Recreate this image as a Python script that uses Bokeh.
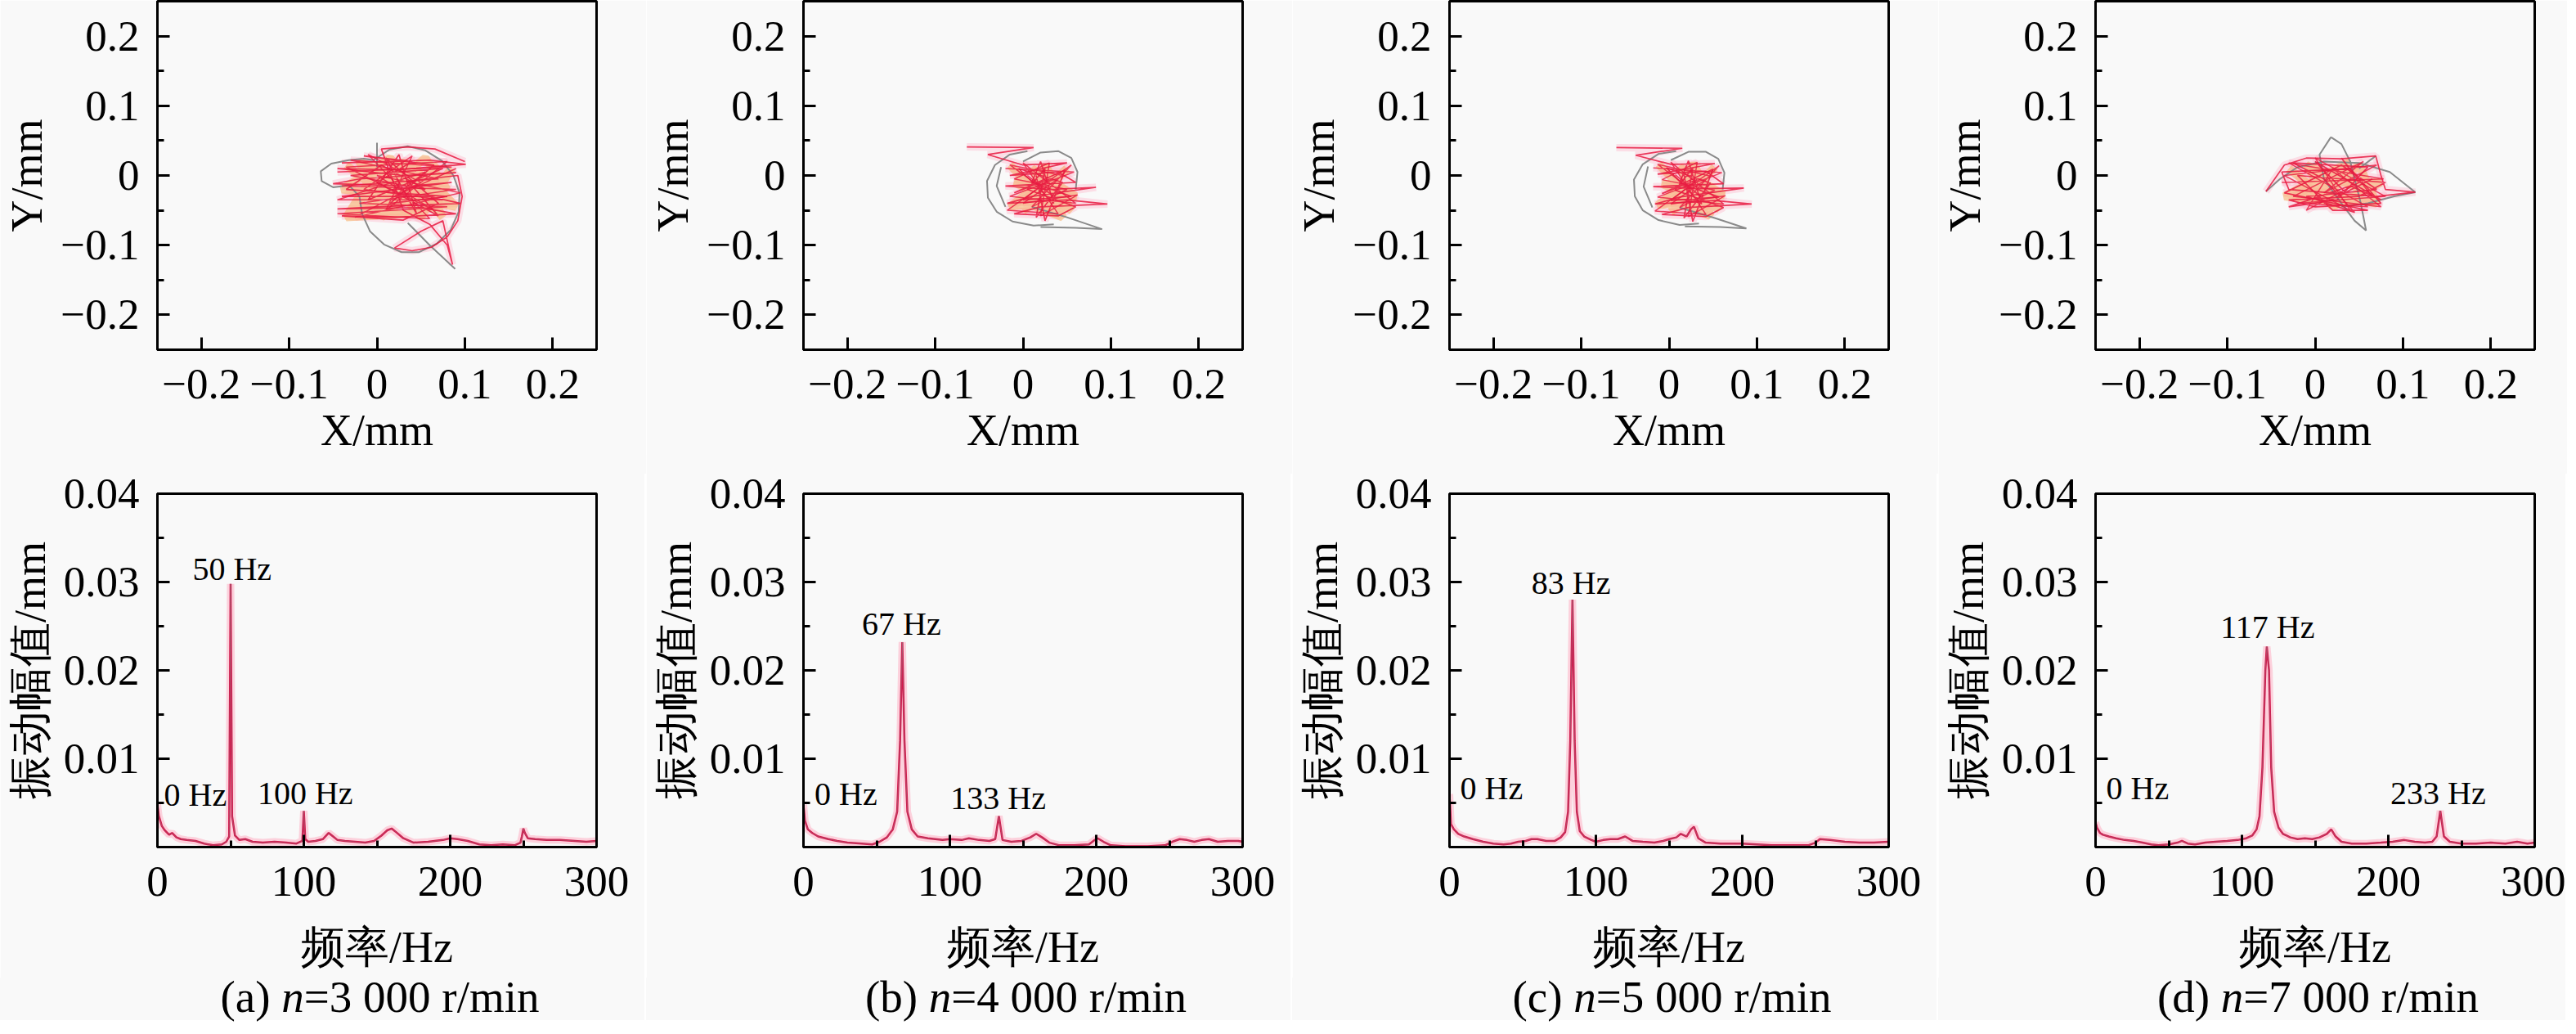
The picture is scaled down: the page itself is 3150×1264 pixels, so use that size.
from bokeh.plotting import figure
from bokeh.models import Range1d, FixedTicker, CustomJSTickFormatter, Label, Div
from bokeh.layouts import row, column
from bokeh.embed import file_html
from bokeh.resources import INLINE

# ---------------- data ----------------
captions = [("a", "3 000"), ("b", "4 000"), ("c", "5 000"), ("d", "7 000")]

orbit_ticks = [-0.2, -0.1, 0, 0.1, 0.2]
orbit_minor_y = [-0.15, -0.05, 0.05, 0.15]
spec_xticks = [0, 100, 200, 300]
spec_xminor = [50, 150, 250]
spec_yticks = [0.01, 0.02, 0.03, 0.04]
spec_yminor = [0.005, 0.015, 0.025, 0.035]

# axis-orbit traces (X mm, Y mm)
orbit_a_gray = [
    [(0.000, 0.047), (0.000, 0.012)],
    [(-0.004, 0.022), (-0.015, 0.024), (-0.032, 0.022), (-0.052, 0.017), (-0.064, 0.006), (-0.063, -0.008),
     (-0.050, -0.017), (-0.032, -0.014), (-0.020, -0.030), (-0.017, -0.055), (-0.008, -0.080), (0.008, -0.099),
     (0.028, -0.110), (0.048, -0.110), (0.068, -0.098), (0.084, -0.078), (0.093, -0.052), (0.094, -0.025),
     (0.087, 0.000), (0.074, 0.021), (0.055, 0.036), (0.035, 0.042), (0.014, 0.037), (-0.004, 0.022)],
    [(0.035, -0.068), (0.060, -0.100), (0.089, -0.134)],
]
orbit_a_orange = [(-0.035, 0.015), (0.000, -0.020), (0.030, 0.020), (0.060, -0.030), (0.085, 0.010), (0.050, -0.060),
                  (0.010, 0.000), (-0.030, -0.050), (0.020, -0.040), (0.070, 0.015), (0.040, -0.015), (-0.020, 0.020),
                  (0.005, -0.060), (0.060, -0.005), (0.090, -0.045), (0.030, -0.030), (-0.040, -0.020), (0.015, 0.025),
                  (0.075, -0.060), (0.045, 0.010), (-0.010, -0.040), (0.055, 0.025), (0.080, -0.020), (0.000, 0.010),
                  (-0.035, -0.060), (0.035, -0.055), (0.065, -0.045), (0.025, 0.005)]
orbit_a_red = [(-0.040, 0.018), (0.060, 0.022), (0.101, 0.016), (0.020, 0.008), (-0.045, 0.010), (0.030, 0.000),
               (0.090, 0.004), (-0.020, -0.005), (-0.050, -0.012), (0.040, -0.015), (0.085, -0.010), (0.010, -0.022),
               (-0.040, -0.030), (0.060, -0.030), (0.095, -0.040), (0.000, -0.045), (-0.045, -0.048), (0.050, -0.046),
               (0.090, -0.055), (0.020, -0.060), (-0.040, -0.058), (0.030, -0.064), (0.070, -0.040), (0.010, 0.025),
               (0.045, -0.055), (0.025, 0.030), (-0.010, -0.035), (0.075, 0.010), (-0.030, 0.000), (0.055, -0.020),
               (0.005, 0.015), (-0.035, -0.020), (0.080, -0.030), (0.015, -0.040), (0.065, 0.015), (-0.015, 0.028),
               (0.040, 0.020), (0.000, -0.010), (0.070, -0.058), (0.035, -0.008), (0.092, 0.000), (0.097, -0.030),
               (0.092, -0.065), (0.080, -0.088), (0.062, -0.103), (0.040, -0.108), (0.020, -0.104), (0.050, -0.080),
               (0.075, -0.065), (0.086, -0.128), (0.080, -0.100), (0.060, -0.070), (0.030, -0.050), (0.005, 0.038),
               (0.035, 0.041), (0.066, 0.038), (0.100, 0.020)]
orbit_a_red2 = [(-0.045, 0.005), (0.085, 0.012), (-0.030, 0.022), (0.070, -0.005), (-0.040, -0.015), (0.090, -0.020),
                (-0.020, -0.040), (0.080, -0.045), (-0.045, -0.055), (0.060, -0.062), (-0.010, 0.030), (0.050, -0.010),
                (-0.025, -0.060), (0.095, -0.025), (0.000, 0.000), (0.065, -0.050), (-0.035, 0.012), (0.080, 0.020),
                (0.010, -0.050), (0.040, 0.028), (-0.015, -0.020), (0.075, -0.035), (-0.045, -0.035), (0.055, 0.005),
                (0.020, -0.030), (0.090, 0.010)]

orbit_b_gray = [
    [(0.005, 0.035), (-0.015, 0.030), (-0.032, 0.015), (-0.041, -0.008), (-0.040, -0.032), (-0.030, -0.052),
     (-0.012, -0.066), (0.012, -0.072), (0.035, -0.070)],
    [(0.000, 0.020), (0.020, 0.033), (0.040, 0.035), (0.055, 0.025), (0.062, 0.005), (0.060, -0.020)],
    [(0.010, -0.045), (0.050, -0.060), (0.090, -0.077), (0.060, -0.075), (0.020, -0.074)],
    [(-0.025, 0.012), (-0.030, -0.015), (-0.020, -0.045)],
]
orbit_b_orange = [(-0.015, 0.015), (0.020, -0.030), (0.050, 0.010), (0.000, -0.050), (0.040, -0.020), (-0.010, -0.010),
                  (0.055, -0.050), (0.025, 0.015), (0.005, -0.040), (0.045, -0.060), (0.030, 0.000), (-0.015, -0.045),
                  (0.060, -0.030), (0.010, 0.010), (0.035, -0.050)]
orbit_b_red = [(-0.064, 0.041), (0.012, 0.040), (-0.040, 0.030), (0.000, 0.015), (0.050, 0.018), (-0.015, 0.000),
               (0.040, 0.005), (0.060, -0.010), (-0.020, -0.015), (0.030, -0.020), (0.083, -0.017), (0.010, -0.030),
               (-0.018, -0.040), (0.050, -0.035), (0.096, -0.041), (0.020, -0.045), (-0.010, -0.055), (0.040, -0.058),
               (0.060, -0.045), (0.005, -0.020), (0.025, 0.010), (0.015, -0.060), (0.045, -0.010), (-0.005, 0.010),
               (0.035, -0.040), (0.020, 0.020), (0.010, -0.010), (0.055, -0.030), (0.000, -0.035), (0.030, -0.005),
               (-0.010, -0.025), (0.048, 0.008), (0.025, -0.065), (0.015, 0.000)]
orbit_b_red2 = [(-0.020, 0.010), (0.058, 0.005), (-0.015, -0.030), (0.060, -0.040), (0.000, 0.018), (0.040, -0.055),
                (-0.018, -0.050), (0.055, 0.015), (0.010, -0.045), (0.050, -0.020), (-0.010, -0.005), (0.030, 0.018),
                (0.020, -0.058), (0.062, -0.028), (0.000, -0.040), (0.045, 0.000), (-0.015, 0.015), (0.035, -0.030),
                (0.005, 0.000)]

orbit_c_gray = [
    [(0.008, 0.035), (-0.012, 0.031), (-0.030, 0.016), (-0.040, -0.006), (-0.039, -0.030), (-0.030, -0.050),
     (-0.012, -0.064), (0.012, -0.071), (0.034, -0.069)],
    [(0.002, 0.022), (0.022, 0.034), (0.042, 0.034), (0.056, 0.024), (0.063, 0.004), (0.061, -0.020)],
    [(0.012, -0.046), (0.052, -0.061), (0.088, -0.076), (0.058, -0.074), (0.018, -0.073)],
    [(-0.024, 0.013), (-0.029, -0.016), (-0.019, -0.046)],
]
orbit_c_orange = [(-0.012, 0.016), (0.022, -0.028), (0.052, 0.012), (0.002, -0.052), (0.042, -0.018), (-0.008, -0.012),
                  (0.057, -0.048), (0.027, 0.017), (0.007, -0.038), (0.047, -0.058), (0.032, 0.002), (-0.013, -0.043),
                  (0.062, -0.028), (0.012, 0.012), (0.037, -0.052)]
orbit_c_red = [(-0.060, 0.040), (0.015, 0.039), (-0.038, 0.029), (0.002, 0.016), (0.052, 0.017), (-0.013, 0.002),
               (0.042, 0.006), (0.062, -0.012), (-0.018, -0.016), (0.032, -0.019), (0.085, -0.018), (0.012, -0.031),
               (-0.016, -0.041), (0.052, -0.036), (0.094, -0.041), (0.022, -0.046), (-0.008, -0.056), (0.042, -0.059),
               (0.062, -0.046), (0.007, -0.021), (0.027, 0.011), (0.017, -0.061), (0.047, -0.011), (-0.003, 0.011),
               (0.037, -0.041), (0.022, 0.021), (0.012, -0.011), (0.057, -0.031), (0.002, -0.036), (0.032, -0.006),
               (-0.008, -0.026), (0.050, 0.009), (0.027, -0.066), (0.017, 0.001)]
orbit_c_red2 = [(-0.018, 0.011), (0.060, 0.004), (-0.013, -0.031), (0.062, -0.041), (0.002, 0.019), (0.042, -0.056),
                (-0.016, -0.051), (0.057, 0.014), (0.012, -0.046), (0.052, -0.021), (-0.008, -0.006), (0.032, 0.019),
                (0.022, -0.059), (0.064, -0.029), (0.002, -0.041), (0.047, -0.001), (-0.013, 0.016), (0.037, -0.031),
                (0.007, 0.001)]

orbit_d_gray = [
    [(0.018, 0.055), (0.030, 0.045), (0.040, 0.020), (0.046, -0.010), (0.052, -0.040), (0.058, -0.079),
     (0.045, -0.065), (0.030, -0.040), (0.010, -0.005), (0.005, 0.030), (0.018, 0.055)],
    [(-0.056, -0.023), (-0.040, -0.005), (-0.020, 0.012), (0.010, 0.020), (0.050, 0.018), (0.085, 0.005),
     (0.114, -0.024), (0.090, -0.030), (0.060, -0.040), (0.030, -0.045)],
    [(0.050, 0.010), (0.069, 0.028)],
]
orbit_d_orange = [(-0.030, 0.010), (0.010, -0.030), (0.050, 0.015), (0.070, -0.040), (-0.020, -0.020), (0.030, 0.005),
                  (0.060, -0.025), (-0.010, 0.015), (0.020, -0.045), (0.075, -0.010), (0.000, -0.010), (0.045, -0.040),
                  (-0.035, -0.030), (0.040, 0.020)]
orbit_d_red = [(-0.056, -0.023), (-0.035, 0.015), (-0.010, 0.025), (0.030, 0.024), (0.069, 0.028), (0.075, 0.000),
               (0.080, -0.020), (0.114, -0.024), (0.070, -0.030), (-0.030, -0.020), (-0.038, 0.005), (0.040, 0.010),
               (0.075, -0.040), (0.000, -0.045), (-0.030, -0.035), (0.050, -0.030), (0.080, -0.010), (-0.020, 0.000),
               (0.020, -0.050), (0.060, -0.050), (-0.035, -0.025), (0.030, 0.015), (0.070, -0.020), (-0.010, -0.030),
               (0.045, -0.053), (0.010, -0.005), (-0.025, 0.018), (0.060, 0.012), (0.025, -0.035), (-0.030, -0.045),
               (0.040, -0.015), (0.075, -0.035), (0.000, 0.020), (0.035, -0.025), (0.010, -0.040), (0.065, -0.005)]
orbit_d_red2 = [(-0.038, -0.010), (0.078, -0.005), (-0.030, 0.018), (0.060, -0.045), (-0.020, -0.040), (0.080, -0.030),
                (0.000, 0.025), (0.040, -0.050), (-0.035, 0.000), (0.070, 0.015), (0.010, -0.025), (0.055, 0.020),
                (-0.025, -0.030), (0.075, -0.045), (0.020, 0.010), (-0.010, -0.050), (0.050, -0.010), (0.030, 0.025),
                (0.065, -0.030)]

# amplitude spectra (frequency Hz, amplitude mm)
spec_a = [(0, 0.0048), (1, 0.0035), (3, 0.0024), (5, 0.0019), (8, 0.0014), (10, 0.0016), (13, 0.0011), (16, 0.0009),
          (20, 0.0008), (26, 0.0007), (32, 0.0004), (38, 0.0002), (44, 0.0003), (47, 0.0006), (49, 0.0012),
          (50, 0.0298), (51, 0.0035), (53, 0.0013), (56, 0.0008), (60, 0.0009), (65, 0.0006), (72, 0.0005),
          (80, 0.0006), (88, 0.0005), (95, 0.0004), (99, 0.0007), (100, 0.0041), (101, 0.0009), (103, 0.0006),
          (108, 0.0007), (113, 0.0009), (117, 0.0016), (120, 0.0012), (123, 0.0008), (128, 0.0007), (135, 0.0006),
          (142, 0.0005), (148, 0.0007), (153, 0.0013), (157, 0.0019), (160, 0.0021), (163, 0.0017), (168, 0.0010),
          (175, 0.0005), (185, 0.0006), (195, 0.0008), (200, 0.0010), (205, 0.0009), (212, 0.0007), (220, 0.0003),
          (228, 0.0002), (236, 0.0003), (244, 0.0002), (248, 0.0005), (249, 0.0012), (250, 0.0021), (251, 0.0016),
          (253, 0.0010), (258, 0.0009), (266, 0.0008), (275, 0.0008), (285, 0.0007), (293, 0.0006), (300, 0.0007)]
spec_b = [(0, 0.0048), (1, 0.0030), (3, 0.0020), (6, 0.0016), (10, 0.0012), (17, 0.0009), (23, 0.0007), (30, 0.0005),
          (40, 0.0004), (47, 0.0003), (52, 0.0006), (57, 0.0011), (61, 0.0020), (64, 0.0040), (66, 0.0120),
          (67.5, 0.0232), (69, 0.0120), (71, 0.0040), (74, 0.0020), (78, 0.0012), (85, 0.0010), (95, 0.0008),
          (100, 0.0009), (108, 0.0008), (113, 0.0010), (120, 0.0008), (127, 0.0007), (131, 0.0009), (133.5, 0.0035),
          (136, 0.0008), (142, 0.0006), (149, 0.0007), (155, 0.0011), (159, 0.0015), (163, 0.0011), (168, 0.0005),
          (175, 0.0002), (185, 0.0002), (195, 0.0003), (199, 0.0008), (201, 0.0010), (205, 0.0006), (210, 0.0002),
          (220, 0.0001), (235, 0.0001), (247, 0.0002), (252, 0.0006), (257, 0.0009), (262, 0.0008), (267, 0.0006),
          (272, 0.0008), (277, 0.0009), (283, 0.0006), (290, 0.0007), (297, 0.0007), (300, 0.0006)]
spec_c = [(0, 0.0060), (1, 0.0026), (3, 0.0020), (6, 0.0015), (10, 0.0012), (16, 0.0009), (23, 0.0006), (30, 0.0004),
          (37, 0.0003), (42, 0.0004), (47, 0.0006), (52, 0.0007), (56, 0.0009), (60, 0.0009), (66, 0.0007),
          (72, 0.0007), (76, 0.0011), (79, 0.0017), (81, 0.0040), (82.5, 0.0120), (84, 0.0280), (85.5, 0.0120),
          (87, 0.0040), (89, 0.0018), (92, 0.0012), (97, 0.0008), (100, 0.0006), (105, 0.0008), (110, 0.0009),
          (115, 0.0009), (120, 0.0012), (125, 0.0007), (132, 0.0006), (140, 0.0005), (146, 0.0007), (150, 0.0009),
          (155, 0.0011), (158, 0.0015), (162, 0.0012), (165, 0.0020), (167, 0.0023), (170, 0.0010), (175, 0.0005),
          (185, 0.0004), (195, 0.0004), (200, 0.0004), (210, 0.0003), (220, 0.0002), (235, 0.0002), (245, 0.0002),
          (250, 0.0005), (253, 0.0009), (260, 0.0008), (270, 0.0006), (280, 0.0005), (290, 0.0005), (300, 0.0006)]
spec_d = [(0, 0.0028), (1, 0.0022), (3, 0.0016), (5, 0.0014), (9, 0.0012), (14, 0.0010), (20, 0.0008), (26, 0.0007),
          (32, 0.0005), (38, 0.0003), (43, 0.0002), (50, 0.0003), (56, 0.0005), (59, 0.0007), (63, 0.0004),
          (68, 0.0003), (75, 0.0005), (82, 0.0006), (90, 0.0007), (97, 0.0008), (103, 0.0010), (107, 0.0013),
          (110, 0.0020), (112, 0.0035), (114, 0.0090), (116, 0.0200), (117, 0.0227), (118.5, 0.0200), (120, 0.0090),
          (122, 0.0040), (125, 0.0022), (128, 0.0015), (133, 0.0011), (138, 0.0009), (143, 0.0010), (148, 0.0009),
          (153, 0.0011), (158, 0.0015), (161, 0.0020), (164, 0.0012), (168, 0.0006), (175, 0.0004), (185, 0.0004),
          (195, 0.0005), (203, 0.0006), (211, 0.0008), (218, 0.0006), (225, 0.0005), (230, 0.0006), (233, 0.0012),
          (235.5, 0.0041), (238, 0.0012), (242, 0.0006), (250, 0.0004), (260, 0.0004), (270, 0.0005), (280, 0.0004),
          (288, 0.0006), (295, 0.0004), (300, 0.0005)]

# peak annotations: (text, frequency, amplitude, align)
notes_a = [("0 Hz", 4.5, 0.0059, "left"), ("50 Hz", 51, 0.0315, "center"), ("100 Hz", 101, 0.0061, "center")]
notes_b = [("0 Hz", 7.6, 0.0060, "left"), ("67 Hz", 67, 0.0253, "center"), ("133 Hz", 133, 0.0056, "center")]
notes_c = [("0 Hz", 7.3, 0.0067, "left"), ("83 Hz", 83, 0.0299, "center")]
notes_d = [("0 Hz", 7.3, 0.0067, "left"), ("117 Hz", 117.5, 0.0249, "center"), ("233 Hz", 234, 0.0061, "center")]

panels = [
    (orbit_a_gray, orbit_a_orange, orbit_a_red, orbit_a_red2, spec_a, notes_a),
    (orbit_b_gray, orbit_b_orange, orbit_b_red, orbit_b_red2, spec_b, notes_b),
    (orbit_c_gray, orbit_c_orange, orbit_c_red, orbit_c_red2, spec_c, notes_c),
    (orbit_d_gray, orbit_d_orange, orbit_d_red, orbit_d_red2, spec_d, notes_d),
]

# ---------------- style ----------------
FONT = "Liberation Serif"
BG = "#f9f9f9"
RED = "#e8193f"
SPEC_RED = "#d6144a"
PINK = "#ff9fb8"
ORANGE = "#f7b36f"
GRAY = "#8a8a8a"
TICK_SIZE = "53px"
LABEL_SIZE = "54px"

fmt = CustomJSTickFormatter(code="""
const t = Math.round(tick * 10000) / 10000;
return t < 0 ? "\\u2212" + String(-t) : String(t);
""")


def style(p, xt, xm, yt, ym, xlabel, ylabel, x_std, x_lbl_std):
    p.background_fill_color = BG
    p.border_fill_color = BG
    p.outline_line_color = "black"
    p.outline_line_width = 3
    p.xgrid.visible = False
    p.ygrid.visible = False
    p.xaxis.ticker = FixedTicker(ticks=xt, minor_ticks=xm)
    p.yaxis.ticker = FixedTicker(ticks=yt, minor_ticks=ym)
    p.xaxis.axis_label = xlabel
    p.yaxis.axis_label = ylabel
    for ax in (p.xaxis[0], p.yaxis[0]):
        ax.formatter = fmt
        ax.axis_line_width = 3
        ax.axis_line_color = "black"
        ax.major_tick_in = 15
        ax.major_tick_out = 0
        ax.minor_tick_in = 8
        ax.minor_tick_out = 0
        ax.major_tick_line_width = 3
        ax.minor_tick_line_width = 3
        ax.major_label_text_font = FONT
        ax.major_label_text_font_size = TICK_SIZE
        ax.major_label_text_color = "black"
        ax.axis_label_text_font = FONT
        ax.axis_label_text_font_size = LABEL_SIZE
        ax.axis_label_text_font_style = "normal"
        ax.axis_label_text_color = "black"
    p.xaxis.major_label_standoff = x_std
    p.xaxis.axis_label_standoff = x_lbl_std
    p.yaxis.major_label_standoff = 22
    p.yaxis.axis_label_standoff = 8


def xs_of(pts):
    return [q[0] for q in pts]


def ys_of(pts):
    return [q[1] for q in pts]


cols = []
for i, (gray, orange, red, red2, spec, notes) in enumerate(panels):
    right = 40 if i == 3 else 61
    top = figure(frame_width=537, frame_height=426, min_border_left=190, min_border_right=right,
                 min_border_top=1, min_border_bottom=152,
                 x_range=Range1d(-0.25, 0.25), y_range=Range1d(-0.25, 0.25),
                 output_backend="svg", toolbar_location=None)
    style(top, orbit_ticks, [], orbit_ticks, orbit_minor_y, "X/mm", "Y/mm", 24, 6)
    for tr in (red, red2):
        top.line(xs_of(tr), ys_of(tr), line_color=PINK, line_width=9, line_alpha=0.3)
    top.line(xs_of(orange), ys_of(orange), line_color=ORANGE, line_width=10, line_alpha=0.6)
    top.multi_line([xs_of(s) for s in gray], [ys_of(s) for s in gray], line_color=GRAY, line_width=2)
    top.line(xs_of(red2), ys_of(red2), line_color=RED, line_width=1.5, line_alpha=0.8)
    top.line(xs_of(red), ys_of(red), line_color=RED, line_width=1.7, line_alpha=0.85)

    bot = figure(frame_width=537, frame_height=432, min_border_left=190, min_border_right=right,
                 min_border_top=48, min_border_bottom=176,
                 x_range=Range1d(0, 300), y_range=Range1d(0, 0.04),
                 output_backend="svg", toolbar_location=None, margin=(-24, 0, 0, 0))
    style(bot, spec_xticks, spec_xminor, spec_yticks, spec_yminor, "频率/Hz", "振动幅值/mm", 24, 30)
    fx = xs_of(spec)
    fy = ys_of(spec)
    bot.line(fx, fy, line_color=PINK, line_width=9, line_alpha=0.45)
    bot.line(fx, fy, line_color=SPEC_RED, line_width=2.5)
    bot.line(fx, fy, line_color=GRAY, line_width=1, line_alpha=0.45)
    for text, x, y, align in notes:
        bot.add_layout(Label(x=x, y=y, text=text, text_align=align, text_baseline="alphabetic",
                             text_font=FONT, text_font_size="40px", text_color="black"))

    letter, speed = captions[i]
    cap = Div(text=('<div style="width:537px;margin-left:196px;text-align:center;'
                    'font-family:\'Liberation Serif\';font-size:55px;line-height:48px;'
                    'color:black;white-space:nowrap">(%s) <i>n</i>=%s r/min</div>') % (letter, speed),
              width=190 + 537 + right, height=52, margin=(-16, 0, 0, 0), styles={"background-color": BG})
    cols.append(column(top, bot, cap, spacing=0))

layout = row(*cols, spacing=0)
open("out.html", "w").write(file_html(layout, INLINE))
